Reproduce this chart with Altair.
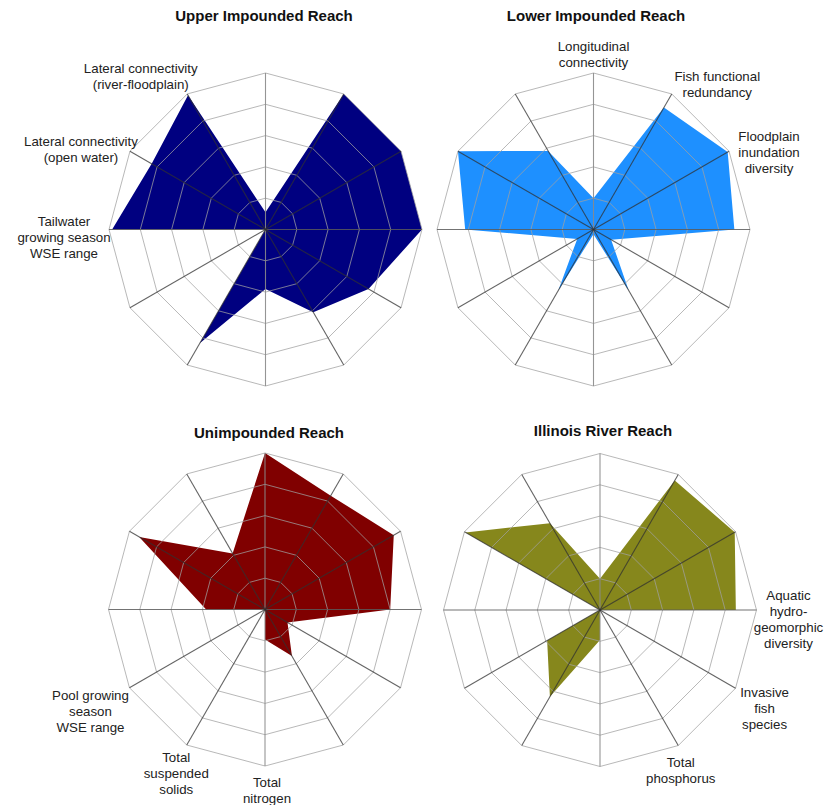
import altair as alt
import pandas as pd

# ---------------- data ----------------
axes = [
    "Longitudinal connectivity", "Fish functional redundancy", "Floodplain inundation diversity",
    "Aquatic hydrogeomorphic diversity", "Invasive fish species", "Total phosphorus",
    "Total nitrogen", "Total suspended solids", "Pool growing season WSE range",
    "Tailwater growing season WSE range", "Lateral connectivity (open water)",
    "Lateral connectivity (river-floodplain)",
]
axis_label_lines = [
    "Longitudinal\nconnectivity", "Fish functional\nredundancy", "Floodplain\ninundation\ndiversity",
    "Aquatic\nhydro-\ngeomorphic\ndiversity", "Invasive\nfish\nspecies", "Total\nphosphorus",
    "Total\nnitrogen", "Total\nsuspended\nsolids", "Pool growing\nseason\nWSE range",
    "Tailwater\ngrowing season\nWSE range", "Lateral connectivity\n(open water)",
    "Lateral connectivity\n(river-floodplain)",
]
panels = ["Upper Impounded Reach", "Lower Impounded Reach", "Unimpounded Reach", "Illinois River Reach"]

upper_values = [0.55, 5.0, 5.0, 5.0, 3.8, 3.05, 1.9, 4.2, 0.0, 4.9, 4.2, 4.95]
lower_values = [1.0, 4.5, 4.95, 4.5, 0.65, 2.25, 0.15, 2.25, 0.6, 4.1, 5.0, 2.9]
unimpounded_values = [5.0, 4.2, 4.75, 4.0, 0.83, 1.72, 0.96, 0.0, 0.0, 1.88, 4.64, 2.07]
illinois_values = [1.0, 4.78, 4.97, 4.34, 0.0, 0.0, 0.96, 3.2, 1.95, 0.0, 4.96, 3.2]
ring_levels = [1, 2, 3, 4, 5]

# which panel shows which axis labels
label_panel = [1, 1, 1, 3, 3, 3, 2, 2, 2, 0, 0, 0]

# ---------------- layout (positions / styles) ----------------
W, H = 827, 805
K = 31.3  # pixels per value unit
RMAX = 5
LINE_H = 16.2
centers = {
    "Upper Impounded Reach": (265.5, 229.5),
    "Lower Impounded Reach": (593.5, 229.5),
    "Unimpounded Reach": (265.0, 609.5),
    "Illinois River Reach": (600.0, 610.0),
}
title_pos = {
    "Upper Impounded Reach": (264, 16),
    "Lower Impounded Reach": (596, 16),
    "Unimpounded Reach": (269, 433),
    "Illinois River Reach": (603, 431),
}
# offset of each label block's centre from its spoke end
label_offsets = [(0, -18), (45.5, -9.3), (40, 1.5), (32, 10), (29, 20.5), (2.5, 25.5),
                 (2, 25), (-10.5, 29), (-39, 24.5), (-45, 8.7), (-49, -1), (-46.5, -17)]
fill_colors = ["#000080", "#1e90ff", "#800000", "#86871c"]
FONT = "Liberation Sans, Arial, Helvetica, sans-serif"

series = [upper_values, lower_values, unimpounded_values, illinois_values]

val_rows = []
for p, vals in zip(panels, series):
    cx, cy = centers[p]
    for i, v in enumerate(vals):
        val_rows.append({"panel": p, "i": i, "axis": axes[i], "v": v, "cx": cx, "cy": cy})
vals_df = pd.DataFrame(val_rows)

ring_rows = []
for p in panels:
    cx, cy = centers[p]
    for r in ring_levels:
        for i in range(len(axes)):
            ring_rows.append({"panel": p, "ring": r, "i": i, "v": r, "cx": cx, "cy": cy})
rings_df = pd.DataFrame(ring_rows)

spoke_rows = []
for p in panels:
    cx, cy = centers[p]
    for i in range(len(axes)):
        kind = "v" if i in (0, 6) else ("h" if i in (3, 9) else "d")
        spoke_rows.append({"panel": p, "i": i, "v": RMAX, "cx": cx, "cy": cy, "kind": kind})
spokes_df = pd.DataFrame(spoke_rows)

lab_rows = []
for i, txt in enumerate(axis_label_lines):
    p = panels[label_panel[i]]
    cx, cy = centers[p]
    dx, dy = label_offsets[i]
    n = txt.count("\n")
    lab_rows.append({"panel": p, "i": i, "text": txt, "v": RMAX, "cx": cx, "cy": cy,
                     "dx": dx, "dy": dy - n * LINE_H / 2})
labels_df = pd.DataFrame(lab_rows)

titles_df = pd.DataFrame([{"panel": p, "tx": title_pos[p][0], "ty": title_pos[p][1]} for p in panels])

theta = "PI/2 - datum.i*PI/6"
calc_x = f"datum.cx + datum.v*{K}*cos({theta})"
calc_y = f"datum.cy - datum.v*{K}*sin({theta})"

xs = alt.Scale(domain=[0, W], nice=False, zero=False)
ys = alt.Scale(domain=[0, H], nice=False, zero=False, reverse=True)
X = alt.X("x:Q", scale=xs, axis=None)
Y = alt.Y("y:Q", scale=ys, axis=None)

fill = (
    alt.Chart(vals_df)
    .transform_calculate(x=calc_x, y=calc_y)
    .mark_line(interpolate="linear-closed", filled=True)
    .encode(
        x=X, y=Y,
        color=alt.Color("panel:N", scale=alt.Scale(domain=panels, range=fill_colors), legend=None),
        detail="panel:N",
        order="i:Q",
    )
)

rings = (
    alt.Chart(rings_df)
    .transform_calculate(x=calc_x, y=calc_y)
    .mark_line(interpolate="linear-closed", color="#a0a0a0", strokeWidth=1, opacity=0.75)
    .encode(x=X, y=Y, detail=["panel:N", "ring:N"], order="i:Q")
)


def spoke_layer(kind, color, opacity):
    return (
        alt.Chart(spokes_df)
        .transform_filter(alt.datum.kind == kind)
        .transform_calculate(x=calc_x, y=calc_y)
        .mark_rule(strokeWidth=1.1, color=color, opacity=opacity)
        .encode(
            x=alt.X("cx:Q", scale=xs, axis=None),
            y=alt.Y("cy:Q", scale=ys, axis=None),
            x2="x:Q",
            y2="y:Q",
        )
    )


spokes_v = spoke_layer("v", "#8a8a8a", 0.9)
spokes_h = spoke_layer("h", "#5a5a5a", 0.85)
spokes_d = spoke_layer("d", "#303030", 0.75)

labels = (
    alt.Chart(labels_df)
    .transform_calculate(
        x=f"datum.cx + datum.v*{K}*cos({theta}) + datum.dx",
        y=f"datum.cy - datum.v*{K}*sin({theta}) + datum.dy",
    )
    .mark_text(lineBreak="\n", align="center", baseline="middle", font=FONT, fontSize=13.3,
               lineHeight=LINE_H, color="#222222")
    .encode(x=X, y=Y, text="text:N")
)

titles = (
    alt.Chart(titles_df)
    .mark_text(align="center", baseline="middle", font=FONT, fontSize=15, fontWeight="bold", color="#111111")
    .encode(
        x=alt.X("tx:Q", scale=xs, axis=None),
        y=alt.Y("ty:Q", scale=ys, axis=None),
        text="panel:N",
    )
)

chart = (
    alt.layer(fill, rings, spokes_v, spokes_h, spokes_d, labels, titles)
    .properties(width=W, height=H, padding=0, autosize=alt.AutoSizeParams(type="none"),
                background="white")
    .configure_view(stroke=None)
)

chart.save("out.html", embed_options={"renderer": "svg", "actions": False})
